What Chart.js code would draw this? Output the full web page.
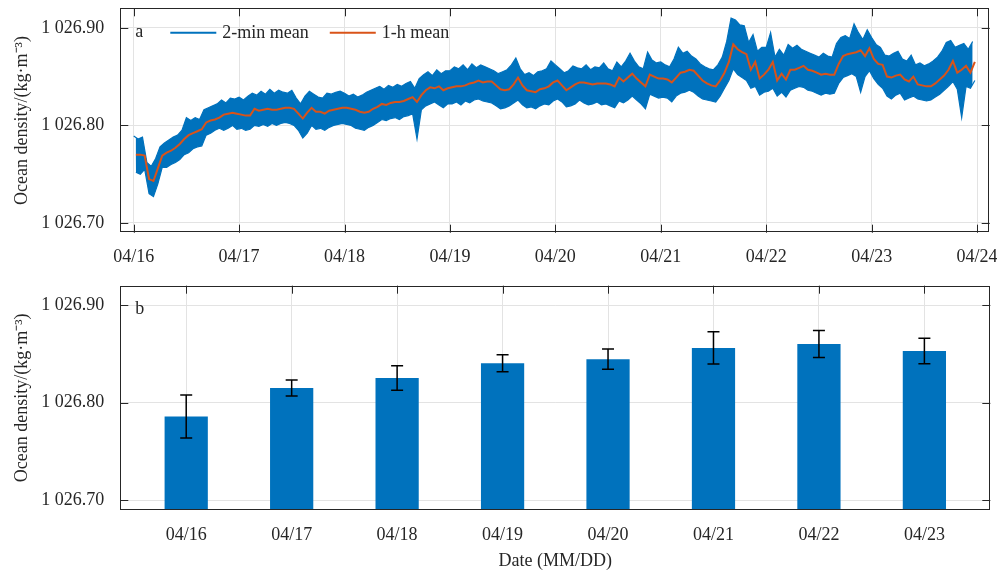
<!DOCTYPE html>
<html lang="en">
<head>
<meta charset="UTF-8">
<title>Ocean density</title>
<script src="https://cdn.jsdelivr.net/npm/chart.js"></script>
<style>
    body { margin: 0; background: #fff; }
    .panel { position: absolute; left: 0; }
    #topPanel { top: 0; }
    #bottomPanel { top: 270px; }
</style>
</head>
<body>
<div class="panel" id="topPanel"><canvas id="seriesChart" width="997" height="270"></canvas></div>
<div class="panel" id="bottomPanel"><canvas id="dailyChart" width="997" height="305"></canvas></div>
<script>
// date labels, one per day starting 04/16 (the last one only closes the time axis)
const dayLabels = ['04/16', '04/17', '04/18', '04/19', '04/20', '04/21', '04/22', '04/23', '04/24'];
const yTickValues = [1026.70, 1026.80, 1026.90];
const yTickLabels = ['1 026.70', '1 026.80', '1 026.90'];

// 1-h mean, one value per hour, one row per day (kg/m3)
const hourMean = [
    1026.770, 1026.770, 1026.769, 1026.745, 1026.743, 1026.756, 1026.769, 1026.772, 1026.774, 1026.777, 1026.781, 1026.786, 1026.790, 1026.792, 1026.794, 1026.796, 1026.803, 1026.805, 1026.806, 1026.808, 1026.811, 1026.812, 1026.813, 1026.812,
    1026.811, 1026.810, 1026.810, 1026.817, 1026.815, 1026.816, 1026.817, 1026.816, 1026.816, 1026.817, 1026.818, 1026.818, 1026.817, 1026.812, 1026.807, 1026.813, 1026.818, 1026.814, 1026.814, 1026.812, 1026.815, 1026.816, 1026.817, 1026.818,
    1026.818, 1026.817, 1026.816, 1026.814, 1026.813, 1026.814, 1026.817, 1026.819, 1026.822, 1026.821, 1026.823, 1026.824, 1026.824, 1026.825, 1026.827, 1026.829, 1026.824, 1026.831, 1026.836, 1026.839, 1026.838, 1026.840, 1026.836, 1026.838,
    1026.839, 1026.840, 1026.840, 1026.841, 1026.843, 1026.844, 1026.846, 1026.844, 1026.845, 1026.845, 1026.841, 1026.837, 1026.836, 1026.837, 1026.842, 1026.849, 1026.841, 1026.836, 1026.835, 1026.834, 1026.837, 1026.838, 1026.840, 1026.844,
    1026.846, 1026.841, 1026.836, 1026.839, 1026.842, 1026.844, 1026.844, 1026.843, 1026.842, 1026.843, 1026.843, 1026.843, 1026.842, 1026.840, 1026.849, 1026.845, 1026.849, 1026.853, 1026.848, 1026.844, 1026.840, 1026.852, 1026.850, 1026.848,
    1026.848, 1026.847, 1026.844, 1026.849, 1026.854, 1026.855, 1026.857, 1026.856, 1026.851, 1026.846, 1026.843, 1026.841, 1026.840, 1026.846, 1026.854, 1026.865, 1026.883, 1026.878, 1026.875, 1026.873, 1026.857, 1026.865, 1026.848, 1026.852,
    1026.857, 1026.865, 1026.846, 1026.853, 1026.847, 1026.857, 1026.857, 1026.859, 1026.861, 1026.857, 1026.856, 1026.854, 1026.852, 1026.853, 1026.852, 1026.852, 1026.863, 1026.871, 1026.873, 1026.874, 1026.875, 1026.877, 1026.871, 1026.879,
    1026.868, 1026.863, 1026.862, 1026.850, 1026.849, 1026.851, 1026.852, 1026.847, 1026.845, 1026.850, 1026.842, 1026.841, 1026.840, 1026.840, 1026.843, 1026.847, 1026.851, 1026.857, 1026.866, 1026.854, 1026.857, 1026.861, 1026.854, 1026.865
];

// 2-min mean, highest and lowest sample inside each hour
const twoMinHigh = [
    1026.789, 1026.786, 1026.788, 1026.762, 1026.758, 1026.766, 1026.778, 1026.782, 1026.785, 1026.788, 1026.790, 1026.795, 1026.808, 1026.805, 1026.808, 1026.806, 1026.816, 1026.818, 1026.820, 1026.822, 1026.826, 1026.823, 1026.828, 1026.827,
    1026.829, 1026.826, 1026.830, 1026.833, 1026.831, 1026.835, 1026.832, 1026.837, 1026.833, 1026.836, 1026.834, 1026.833, 1026.836, 1026.828, 1026.822, 1026.830, 1026.835, 1026.832, 1026.829, 1026.828, 1026.833, 1026.832, 1026.834, 1026.835,
    1026.833, 1026.830, 1026.832, 1026.829, 1026.831, 1026.834, 1026.836, 1026.838, 1026.840, 1026.837, 1026.841, 1026.839, 1026.842, 1026.840, 1026.843, 1026.845, 1026.838, 1026.848, 1026.852, 1026.855, 1026.851, 1026.857, 1026.853, 1026.856,
    1026.856, 1026.860, 1026.858, 1026.862, 1026.857, 1026.863, 1026.859, 1026.862, 1026.860, 1026.858, 1026.856, 1026.853, 1026.855, 1026.857, 1026.862, 1026.869, 1026.858, 1026.852, 1026.854, 1026.851, 1026.855, 1026.856, 1026.858, 1026.866,
    1026.862, 1026.858, 1026.854, 1026.856, 1026.861, 1026.859, 1026.858, 1026.862, 1026.857, 1026.860, 1026.859, 1026.864, 1026.858, 1026.856, 1026.865, 1026.860, 1026.866, 1026.874, 1026.866, 1026.860, 1026.858, 1026.875, 1026.867, 1026.864,
    1026.865, 1026.862, 1026.860, 1026.868, 1026.880, 1026.874, 1026.876, 1026.871, 1026.868, 1026.863, 1026.860, 1026.858, 1026.857, 1026.862, 1026.870, 1026.886, 1026.910, 1026.908, 1026.903, 1026.902, 1026.885, 1026.893, 1026.876, 1026.880,
    1026.880, 1026.895, 1026.870, 1026.878, 1026.872, 1026.883, 1026.879, 1026.882, 1026.878, 1026.876, 1026.874, 1026.872, 1026.870, 1026.874, 1026.871, 1026.870, 1026.884, 1026.890, 1026.892, 1026.889, 1026.904, 1026.895, 1026.888, 1026.898,
    1026.890, 1026.883, 1026.880, 1026.872, 1026.871, 1026.874, 1026.876, 1026.868, 1026.866, 1026.872, 1026.862, 1026.864, 1026.861, 1026.863, 1026.866, 1026.870, 1026.876, 1026.885, 1026.887, 1026.880, 1026.882, 1026.884, 1026.878, 1026.886
];
const twoMinLow = [
    1026.752, 1026.750, 1026.755, 1026.730, 1026.727, 1026.740, 1026.757, 1026.757, 1026.760, 1026.762, 1026.765, 1026.770, 1026.772, 1026.776, 1026.778, 1026.779, 1026.790, 1026.792, 1026.795, 1026.797, 1026.795, 1026.797, 1026.800, 1026.796,
    1026.797, 1026.795, 1026.796, 1026.800, 1026.799, 1026.801, 1026.799, 1026.802, 1026.800, 1026.802, 1026.803, 1026.802, 1026.800, 1026.795, 1026.787, 1026.792, 1026.800, 1026.796, 1026.797, 1026.795, 1026.798, 1026.800, 1026.801, 1026.802,
    1026.801, 1026.800, 1026.797, 1026.796, 1026.795, 1026.798, 1026.800, 1026.803, 1026.806, 1026.805, 1026.807, 1026.808, 1026.806, 1026.809, 1026.810, 1026.812, 1026.786, 1026.816, 1026.820, 1026.822, 1026.824, 1026.821, 1026.818, 1026.822,
    1026.822, 1026.824, 1026.821, 1026.825, 1026.823, 1026.826, 1026.827, 1026.825, 1026.824, 1026.823, 1026.820, 1026.817, 1026.818, 1026.820, 1026.823, 1026.826, 1026.821, 1026.818, 1026.819, 1026.817, 1026.820, 1026.822, 1026.821, 1026.825,
    1026.827, 1026.824, 1026.819, 1026.820, 1026.822, 1026.826, 1026.823, 1026.821, 1026.822, 1026.824, 1026.821, 1026.822, 1026.820, 1026.818, 1026.825, 1026.823, 1026.826, 1026.830, 1026.826, 1026.822, 1026.817, 1026.832, 1026.830, 1026.828,
    1026.829, 1026.828, 1026.824, 1026.830, 1026.833, 1026.834, 1026.836, 1026.834, 1026.830, 1026.827, 1026.826, 1026.825, 1026.824, 1026.830, 1026.838, 1026.846, 1026.858, 1026.852, 1026.849, 1026.846, 1026.838, 1026.840, 1026.831, 1026.834,
    1026.835, 1026.838, 1026.830, 1026.834, 1026.829, 1026.836, 1026.838, 1026.840, 1026.839, 1026.836, 1026.835, 1026.833, 1026.831, 1026.833, 1026.832, 1026.833, 1026.843, 1026.849, 1026.851, 1026.853, 1026.850, 1026.834, 1026.850, 1026.856,
    1026.848, 1026.842, 1026.838, 1026.830, 1026.827, 1026.831, 1026.833, 1026.826, 1026.828, 1026.830, 1026.827, 1026.826, 1026.825, 1026.826, 1026.829, 1026.832, 1026.836, 1026.840, 1026.845, 1026.837, 1026.808, 1026.840, 1026.838, 1026.846
];

// daily mean and standard deviation (panel b)
const dayMean = [1026.7858, 1026.8152, 1026.8254, 1026.8405, 1026.8447, 1026.8562, 1026.8602, 1026.8530];
const dayStd = [0.0220, 0.0082, 0.0126, 0.0087, 0.0105, 0.0165, 0.0138, 0.0130];

const FONT = "'Liberation Serif', 'Times New Roman', serif";
const INK = '#262626';
const GRID = '#e3e3e3';
const BLUE = '#0072BD';
const ORANGE = '#D95319';

Chart.defaults.font.family = FONT;
Chart.defaults.font.size = 18;
Chart.defaults.color = INK;

// the 2-min trace is shown as the band between its hourly high and low samples
const highPoints = twoMinHigh.map((v, h) => ({ x: h / 24, y: v }));
const lowPoints = twoMinLow.map((v, h) => ({ x: (h + 0.5) / 24, y: v }));
const hourPoints = hourMean.map((v, h) => ({ x: (h + 0.5) / 24, y: v }));

// closed box, inward ticks, panel letter and legend inside the plot
const framePlugin = {
    id: 'frame',
    afterDraw(chart, args, opts) {
        const { ctx, chartArea: a, scales: { x, y } } = chart;
        ctx.save();
        ctx.strokeStyle = INK;
        ctx.lineWidth = 1;
        ctx.beginPath();
        x.ticks.forEach(t => {
            const px = Math.round(x.getPixelForValue(t.value)) + 0.5;
            ctx.moveTo(px, a.top);
            ctx.lineTo(px, a.top + 8);
            if (opts.bottomTicks) {
                ctx.moveTo(px, a.bottom);
                ctx.lineTo(px, a.bottom - 8);
            }
        });
        y.ticks.forEach(t => {
            const py = Math.round(y.getPixelForValue(t.value)) + 0.5;
            ctx.moveTo(a.left, py);
            ctx.lineTo(a.left + 8, py);
            ctx.moveTo(a.right, py);
            ctx.lineTo(a.right - 8, py);
        });
        ctx.stroke();
        ctx.strokeRect(Math.round(a.left) + 0.5, Math.round(a.top) + 0.5,
            Math.round(a.right - a.left) - 1, Math.round(a.bottom - a.top) - 1);

        ctx.fillStyle = INK;
        ctx.font = '18px ' + FONT;
        ctx.textBaseline = 'middle';
        ctx.fillText(opts.letter, a.left + 15, a.top + 24);

        if (opts.legend) {
            let lx = a.left + 50;
            const ly = a.top + 24.5;
            chart.data.datasets.filter(ds => ds.label).forEach(ds => {
                ctx.strokeStyle = ds.borderColor;
                ctx.lineWidth = 2;
                ctx.beginPath();
                ctx.moveTo(lx, ly);
                ctx.lineTo(lx + 46, ly);
                ctx.stroke();
                ctx.fillText(ds.label, lx + 52, ly);
                lx += 52 + ctx.measureText(ds.label).width + 21;
            });
        }
        ctx.restore();
    }
};

// error bars on top of the daily bars
const errorBarPlugin = {
    id: 'errorBars',
    afterDatasetsDraw(chart) {
        const { ctx, scales: { x, y } } = chart;
        ctx.save();
        ctx.strokeStyle = '#000';
        ctx.lineWidth = 1.5;
        ctx.beginPath();
        dayMean.forEach((m, i) => {
            const px = x.getPixelForValue(i);
            const top = y.getPixelForValue(m + dayStd[i]);
            const bot = y.getPixelForValue(m - dayStd[i]);
            ctx.moveTo(px, top); ctx.lineTo(px, bot);
            ctx.moveTo(px - 6, top); ctx.lineTo(px + 6, top);
            ctx.moveTo(px - 6, bot); ctx.lineTo(px + 6, bot);
        });
        ctx.stroke();
        ctx.restore();
    }
};

function densityAxis() {
    return {
        min: 1026.69,
        max: 1026.92,
        afterBuildTicks: s => { s.ticks = yTickValues.map(v => ({ value: v })); },
        afterFit: s => { s.width = 120.3; s.paddingTop = 0; s.paddingBottom = 0; },
        ticks: { callback: (v, i) => yTickLabels[i], padding: 16, color: INK },
        grid: { color: GRID, drawTicks: false },
        border: { display: false },
        title: { display: true, text: 'Ocean density/(kg·m⁻³)', color: INK, padding: { top: 11 } }
    };
}

// panel a: time series
new Chart(document.getElementById('seriesChart'), {
    type: 'line',
    data: {
        datasets: [
            { label: '2-min mean', data: highPoints, borderColor: BLUE, backgroundColor: BLUE, borderWidth: 1.2, pointRadius: 0, fill: '+1', order: 3 },
            { label: '', data: lowPoints, borderColor: BLUE, borderWidth: 1.2, pointRadius: 0, order: 2 },
            { label: '1-h mean', data: hourPoints, borderColor: ORANGE, borderWidth: 2, pointRadius: 0, order: 1 }
        ]
    },
    options: {
        responsive: false,
        animation: false,
        layout: { padding: { top: 8.3, right: 7.3, bottom: 0, left: 0 } },
        scales: {
            x: {
                type: 'linear',
                min: -0.127,
                max: 8.12,
                afterBuildTicks: s => { s.ticks = dayLabels.map((d, i) => ({ value: i })); },
                afterFit: s => { s.height = 37.3; s.paddingLeft = 0; s.paddingRight = 0; },
                ticks: { callback: (v, i) => dayLabels[i], autoSkip: false, maxRotation: 0, padding: 14, color: INK },
                grid: { color: GRID, drawTicks: false },
                border: { display: false }
            },
            y: densityAxis()
        },
        plugins: {
            legend: { display: false },
            tooltip: { enabled: false },
            frame: { letter: 'a', legend: true, bottomTicks: true }
        }
    },
    plugins: [framePlugin]
});

// panel b: daily means with standard deviation
new Chart(document.getElementById('dailyChart'), {
    type: 'bar',
    data: {
        datasets: [{
            label: 'daily mean',
            data: dayMean.map((v, i) => ({ x: i, y: v })),
            backgroundColor: BLUE,
            barPercentage: 0.41,
            categoryPercentage: 1
        }]
    },
    options: {
        responsive: false,
        animation: false,
        layout: { padding: { top: 15.7, right: 6.7, bottom: 0, left: 0 } },
        scales: {
            x: {
                type: 'linear',
                offset: false,
                min: -0.625,
                max: 7.625,
                afterBuildTicks: s => { s.ticks = dayMean.map((m, i) => ({ value: i })); },
                afterFit: s => { s.height = 65; s.paddingLeft = 0; s.paddingRight = 0; },
                ticks: { callback: (v, i) => dayLabels[i], autoSkip: false, maxRotation: 0, padding: 14, color: INK },
                grid: { color: GRID, drawTicks: false, offset: false },
                border: { display: false },
                title: { display: true, text: 'Date (MM/DD)', color: INK, padding: { bottom: 3 } }
            },
            y: densityAxis()
        },
        plugins: {
            legend: { display: false },
            tooltip: { enabled: false },
            frame: { letter: 'b', legend: false, bottomTicks: false }
        }
    },
    plugins: [errorBarPlugin, framePlugin]
});
</script>
</body>
</html>
